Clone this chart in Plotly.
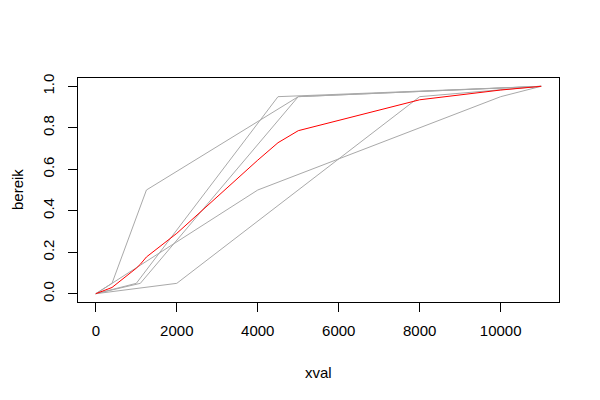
import plotly.graph_objects as go

# Individual gray series (xval, bereik)
a_x = [0, 400, 1250, 5000, 11000]
a_y = [0.0, 0.05, 0.5, 0.95, 1.0]
b_x = [0, 1000, 4500, 11000]
b_y = [0.0, 0.05, 0.95, 1.0]
c_x = [0, 1100, 5000, 11000]
c_y = [0.0, 0.05, 0.95, 1.0]
d_x = [0, 2000, 8000, 11000]
d_y = [0.0, 0.05, 0.95, 1.0]
e_x = [0, 4000, 10000, 11000]
e_y = [0.0, 0.5, 0.95, 1.0]

# Red mean series
mean_x = [0, 400, 1000, 1100, 1250, 2000, 4000, 4500, 5000, 8000, 10000, 11000]
mean_y = [0.0, 0.03, 0.123, 0.142, 0.177, 0.291, 0.644, 0.728, 0.786, 0.935, 0.982, 1.0]

x_ticks = [0, 2000, 4000, 6000, 8000, 10000]
y_ticks = [0.0, 0.2, 0.4, 0.6, 0.8, 1.0]
y_ticklabels = ["0.0", "0.2", "0.4", "0.6", "0.8", "1.0"]

fig = go.Figure()
for xs, ys in [(a_x, a_y), (b_x, b_y), (c_x, c_y), (d_x, d_y), (e_x, e_y)]:
    fig.add_trace(go.Scatter(x=xs, y=ys, mode="lines",
                             line=dict(color="#a9a9a9", width=1), showlegend=False))
fig.add_trace(go.Scatter(x=mean_x, y=mean_y, mode="lines",
                         line=dict(color="red", width=1), showlegend=False))

font = dict(family="Liberation Sans, Arial, sans-serif", size=15, color="black")
fig.update_layout(
    width=600, height=400,
    margin=dict(l=70, r=49, t=70, b=106),
    paper_bgcolor="white", plot_bgcolor="white",
    font=font,
    showlegend=False,
)
fig.update_xaxes(range=[-440, 11440], tickvals=x_ticks, ticktext=[str(v) for v in x_ticks],
                 ticks="outside", ticklen=9, tickcolor="black", tickwidth=1,
                 showline=True, linecolor="black", linewidth=1, mirror=True,
                 showgrid=False, zeroline=False, ticklabelstandoff=6, automargin=False)
fig.update_yaxes(range=[-0.04, 1.04], tickvals=y_ticks, ticktext=y_ticklabels,
                 ticks="outside", ticklen=9, tickcolor="black", tickwidth=1,
                 showline=True, linecolor="black", linewidth=1, mirror=True,
                 showgrid=False, zeroline=False, tickangle=-90, ticklabelstandoff=8,
                 automargin=False)
fig.add_annotation(text="xval", xref="paper", yref="paper", x=0.5, y=0,
                   yshift=-70, showarrow=False, font=font, yanchor="middle")
fig.add_annotation(text="bereik", xref="paper", yref="paper", x=0, y=0.5,
                   xshift=-61, showarrow=False, font=font, textangle=-90, xanchor="center")
fig.write_html("out.html")
